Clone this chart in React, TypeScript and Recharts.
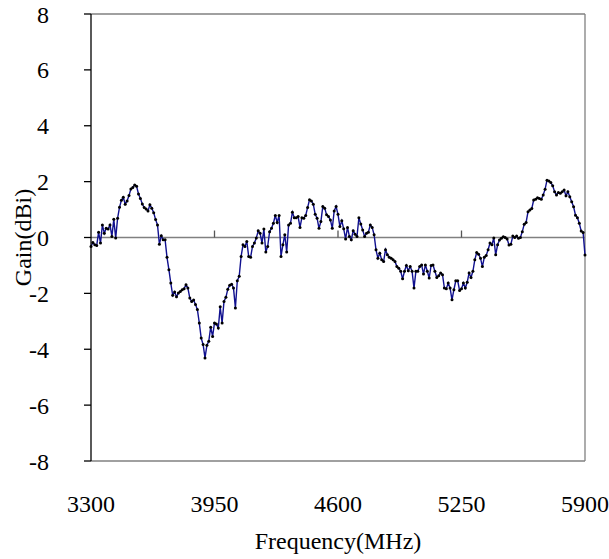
import React from 'react';
import { LineChart, Line, XAxis, YAxis, ReferenceLine } from 'recharts';

// sampling grid of the measurement (MHz)
const FREQ_START = 3300;
const FREQ_STEP = 10;

// gain readings (dBi), one every 10 MHz, split by frequency span
const gain3300 = [
  -0.32, -0.18, -0.26, -0.29, 0.19, -0.2, 0.45, 0.15, 0.33, 0.3,
  0.45, 0.04, 0.65, -0.02, 0.69, 1.08, 1.33, 1.44, 1.19, 1.31,
  1.5, 1.74, 1.79, 1.88, 1.83, 1.56, 1.4, 1.2, 1.07, 1.02,
  0.95, 1.17, 1.05, 0.89, 0.64, 0.45, -0.24, 0.06, -0.08, -0.08,
  -0.71, -1.15, -1.63,
];
const gain3730 = [
  -2.07, -1.95, -2.12, -1.99, -1.93, -1.87, -1.83, -1.69, -1.81, -2.17,
  -2.29, -2.24, -2.4, -2.58, -3.06, -3.6, -3.83, -4.31, -3.86, -3.71,
  -3.21, -3.54, -3.06, -3.1, -3.24, -2.48, -3.06, -2.29, -2.14, -1.85,
  -1.71, -1.67, -1.81, -2.52, -1.55, -1.39, -0.68, -0.26, -0.32, -0.14,
  -0.68, -0.71, -0.32,
];
const gain4160 = [
  -0.2, -0.02, 0.24, 0.15, -0.2, 0.3, -0.52, -0.32, 0.21, 0.33,
  0.51, 0.79, 0.54, 0.79, -0.68, -0.26, 0.1, -0.52, 0.45, 0.51,
  0.9, 0.71, 0.71, 0.75, 0.36, 0.71, 0.69, 0.79, 1.07, 1.35,
  1.31, 1.19, 0.83, 0.69, 0.33, 0.57, 1.11, 1.05, 0.81, 0.75,
  0.63, 0.33, 0.95,
];
const gain4590 = [
  1.11, 0.83, 0.39, 0.6, 0.31, -0.05, 0.36, 0.04, -0.08, 0.24,
  0.12, 0.04, 0.71, 0.48, 0.27, 0.04, 0.15, 0.19, 0.45, 0.36,
  0.1, -0.44, -0.74, -0.56, -0.8, -0.86, -0.44, -0.62, -0.71, -0.74,
  -0.8, -0.86, -1.04, -1.1, -1.21, -1.48, -1.21, -1.0, -1.19, -1.04,
  -1.21, -1.81, -1.21,
];
const gain5020 = [
  -1.21, -1.04, -0.98, -1.31, -0.98, -1.21, -1.45, -1.0, -0.98, -1.21,
  -1.43, -1.37, -1.27, -1.33, -1.81, -1.83, -1.63, -1.81, -2.23, -1.87,
  -1.55, -1.55, -1.9, -1.83, -1.63, -1.81, -1.6, -1.27, -1.43, -1.21,
  -0.8, -0.54, -0.6, -0.74, -1.04, -0.71, -0.64, -0.44, -0.2, -0.26,
  -0.02, -0.62, -0.26,
];
const gain5450 = [
  -0.09, -0.03, 0.03, 0, -0.05, -0.27, -0.24, 0.05, 0, 0.05,
  -0.03, 0, 0.21, 0.47, 0.54, 0.92, 0.98, 1.04, 1.34, 1.37,
  1.42, 1.4, 1.37, 1.52, 1.73, 2.05, 2.02, 1.97, 1.85, 1.64,
  1.52, 1.61, 1.58, 1.64, 1.7, 1.49, 1.64, 1.46, 1.28, 1.1,
  0.8, 0.71, 0.51, 0.23, 0.18, -0.63,
];

const xTicks = [3300, 3950, 4600, 5250, 5900];
const yTicks = [-8, -6, -4, -2, 0, 2, 4, 6, 8];
const zeroTicks = [3950, 4600, 5250];

const gains = [...gain3300, ...gain3730, ...gain4160, ...gain4590, ...gain5020, ...gain5450];
const data = gains.map((g, i) => ({ freq: FREQ_START + i * FREQ_STEP, gain: g }));

const SERIF = '"Liberation Serif", "Times New Roman", serif';
const font = { fontFamily: SERIF, fontSize: 24, fill: '#000' };

const XTick = ({ x, y, payload }: any) => (
  <text x={x} y={y} dy="0.71em" textAnchor="middle" fontFamily={SERIF} fontSize={24} fill="#000">
    {payload.value}
  </text>
);

const YTick = ({ x, y, payload }: any) => (
  <text x={x} y={y} dy="0.355em" textAnchor="end" fontFamily={SERIF} fontSize={24} fill="#000">
    {payload.value}
  </text>
);

export default function App() {
  return (
    <div style={{ position: 'absolute', left: 0, top: 0, background: '#fff', fontFamily: SERIF }}>
      <LineChart width={609} height={559} data={data} margin={{ top: 14, right: 24, bottom: 0, left: 0 }}>
        <XAxis
          dataKey="freq"
          type="number"
          domain={[3300, 5900]}
          ticks={xTicks}
          height={98}
          axisLine={{ stroke: '#808080', strokeWidth: 1.3 }}
          tickLine={false}
          tickSize={0}
          tickMargin={34}
          tick={<XTick />}
          label={{ value: 'Frequency(MHz)', position: 'insideBottom', offset: 10, style: font }}
        />
        <YAxis
          type="number"
          domain={[-8, 8]}
          ticks={yTicks}
          width={91}
          interval={0}
          axisLine={{ stroke: '#000', strokeWidth: 1.3 }}
          tickLine={{ stroke: '#000', strokeWidth: 1.3 }}
          tickSize={7}
          tickMargin={35}
          tick={<YTick />}
          label={{ value: 'Gain(dBi)', angle: -90, position: 'insideLeft', offset: 22, style: { ...font, textAnchor: 'middle' } }}
        />
        <ReferenceLine y={8} stroke="#808080" strokeWidth={1.3} />
        <ReferenceLine x={5900} stroke="#808080" strokeWidth={1.3} />
        <ReferenceLine y={0} stroke="#808080" strokeWidth={1.3} />
        {zeroTicks.map(t => (
          <ReferenceLine key={t} segment={[{ x: t, y: 0 }, { x: t, y: 0.25 }]} stroke="#555" strokeWidth={1.3} />
        ))}
        <Line
          dataKey="gain"
          type="linear"
          stroke="#10108f"
          strokeWidth={1.4}
          dot={{ r: 1.5, fill: '#000', stroke: '#000', strokeWidth: 0 }}
          isAnimationActive={false}
        />
      </LineChart>
    </div>
  );
}
